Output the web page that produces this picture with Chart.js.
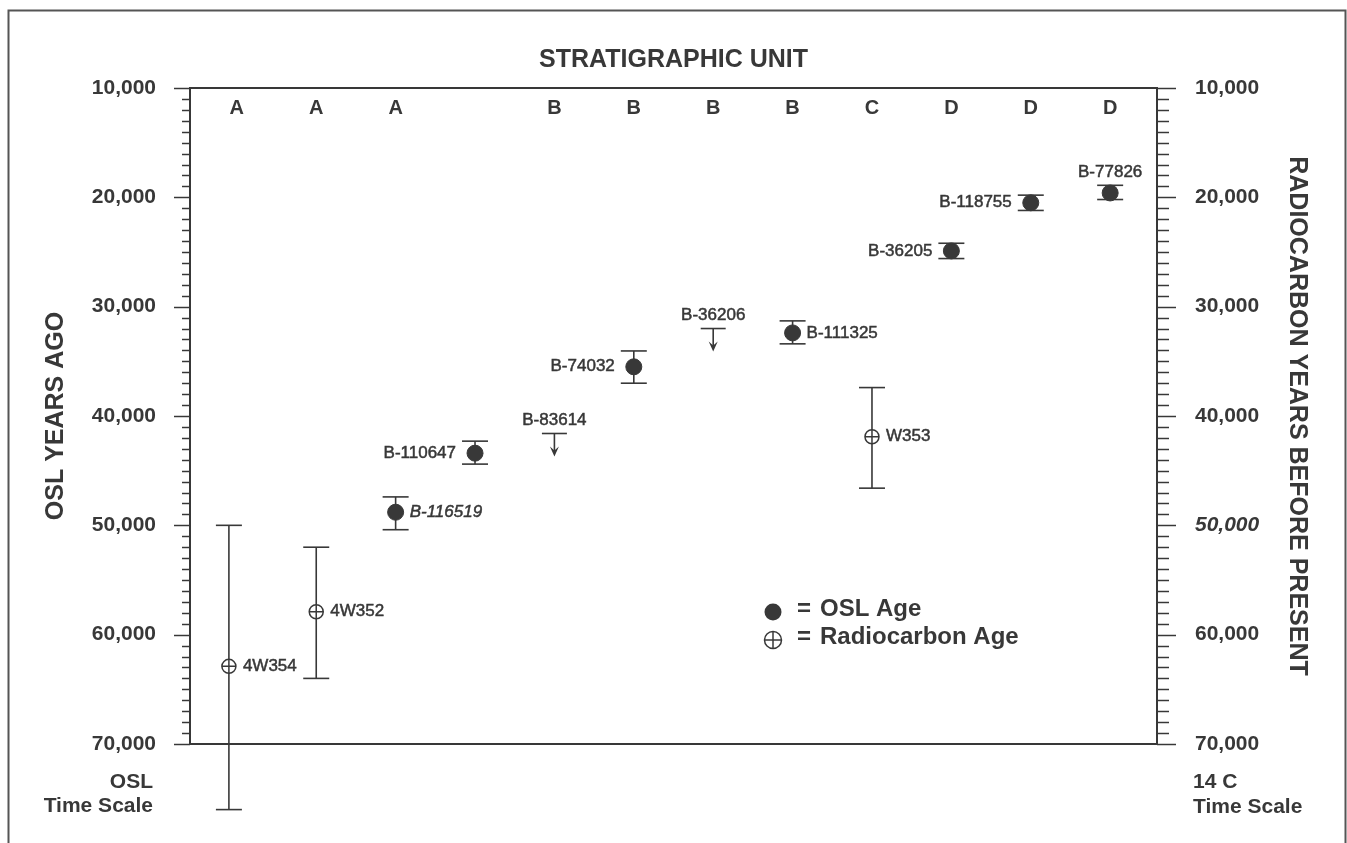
<!DOCTYPE html>
<html>
<head>
<meta charset="utf-8">
<title>OSL and radiocarbon ages by stratigraphic unit</title>
<script src="https://cdn.jsdelivr.net/npm/chart.js@4.4.1/dist/chart.umd.min.js"></script>
<style>
    html, body { margin: 0; padding: 0; background: #fff; }
    #wrap { position: relative; width: 1347px; height: 843px; }
</style>
</head>
<body>
<div id="wrap"><canvas id="ageChart"></canvas></div>
<script>
// ============================================
// DATA
// ============================================

// stratigraphic unit of each sample column (column 3 has no letter)
const units = ['A', 'A', 'A', '', 'B', 'B', 'B', 'B', 'C', 'D', 'D', 'D'];

// age axis (same on both sides), years
const ageMin = 10000;
const ageMax = 70000;
const ageMajorStep = 10000;
const ageMinorStep = 1000;

// OSL ages (filled circles) with error range
const oslSamples = ['B-116519', 'B-110647', 'B-74032', 'B-111325', 'B-36205', 'B-118755', 'B-77826'];
const oslColumn = [2, 3, 5, 7, 9, 10, 11];
const oslAge = [48800, 43400, 35500, 32400, 24900, 20500, 19600];
const oslYoung = [47400, 42300, 34050, 31300, 24200, 19800, 18900];
const oslOld = [50400, 44400, 37000, 33400, 25600, 21200, 20200];

// radiocarbon ages (circle with cross) with error range
const rcSamples = ['4W354', '4W352', 'W353'];
const rcColumn = [-0.1, 1, 8];
const rcAge = [62900, 57900, 41900];
const rcYoung = [50000, 52000, 37400];
const rcOld = [76000, 64000, 46600];

// minimum ages (bar with arrow pointing older)
const minSamples = ['B-83614', 'B-36206'];
const minColumn = [4, 6];
const minAge = [41600, 32000];

// ============================================
// STYLE
// ============================================

const FONT = "'Liberation Sans', Arial, Helvetica, sans-serif";
const INK = '#383838';

// where each sample name sits relative to its mark
const labelSide = {
    '4W354': 'right', '4W352': 'right', 'B-116519': 'right', 'B-110647': 'left',
    'B-83614': 'above', 'B-74032': 'left', 'B-36206': 'above', 'B-111325': 'right',
    'W353': 'right', 'B-36205': 'left', 'B-118755': 'left', 'B-77826': 'above'
};
const italicLabels = ['B-116519'];

Chart.defaults.font.family = FONT;
Chart.defaults.color = INK;

function line(c, x1, y1, x2, y2) {
    c.beginPath();
    c.moveTo(x1, y1);
    c.lineTo(x2, y2);
    c.stroke();
}

function errorBar(c, px, pTop, pBottom) {
    const cap = 13;
    line(c, px, pTop, px, pBottom);
    line(c, px - cap, pTop, px + cap, pTop);
    line(c, px - cap, pBottom, px + cap, pBottom);
}

function minimumArrow(c, px, py) {
    const cap = 12.5;
    const len = 23;
    line(c, px - cap, py, px + cap, py);
    line(c, px, py, px, py + len - 4);
    c.beginPath();
    c.moveTo(px - 4.5, py + len - 10);
    c.lineTo(px, py + len);
    c.lineTo(px + 4.5, py + len - 10);
    c.lineTo(px, py + len - 6);
    c.closePath();
    c.fill();
}

// text with a hairline outline, close to the medium weight of the original
function heavyText(c, text, x, y) {
    c.fillText(text, x, y);
    c.strokeText(text, x, y);
}

function sampleLabel(c, name, px, py, pTop) {
    const side = labelSide[name];
    c.font = (italicLabels.includes(name) ? 'italic ' : '') + '17px ' + FONT;
    c.textBaseline = 'middle';
    c.lineWidth = 0.5;
    if (side === 'left') {
        c.textAlign = 'right';
        heavyText(c, name, px - 19, py);
    } else if (side === 'right') {
        c.textAlign = 'left';
        heavyText(c, name, px + 14, py);
    } else {
        c.textAlign = 'center';
        heavyText(c, name, px, pTop - 13);
    }
}

const figurePlugin = {
    id: 'figure',
    beforeDraw(chart) {
        const c = chart.ctx;
        c.save();
        c.strokeStyle = '#555';
        c.lineWidth = 2;
        c.strokeRect(8.5, 10.5, chart.width - 10, chart.height + 20);
        c.restore();
    },
    beforeDatasetsDraw(chart) {
        const { ctx: c, scales: { x, y } } = chart;
        c.save();
        c.strokeStyle = INK;
        c.fillStyle = INK;
        c.lineWidth = 1.6;
        oslColumn.forEach((col, i) => {
            errorBar(c, x.getPixelForValue(col), y.getPixelForValue(oslYoung[i]), y.getPixelForValue(oslOld[i]));
        });
        rcColumn.forEach((col, i) => {
            errorBar(c, x.getPixelForValue(col), y.getPixelForValue(rcYoung[i]), y.getPixelForValue(rcOld[i]));
        });
        minColumn.forEach((col, i) => {
            minimumArrow(c, x.getPixelForValue(col), y.getPixelForValue(minAge[i]));
        });
        c.restore();
    },
    afterDraw(chart) {
        const { ctx: c, chartArea: area, scales: { x, y } } = chart;
        c.save();
        c.strokeStyle = INK;
        c.fillStyle = INK;

        // major and minor tick marks on both age axes
        c.lineWidth = 1.5;
        for (let v = ageMin; v <= ageMax; v += ageMinorStep) {
            const major = v % ageMajorStep === 0;
            const py = Math.round(y.getPixelForValue(v)) + 0.5;
            line(c, area.left - (major ? 16 : 8), py, area.left, py);
            line(c, area.right, py, area.right + (major ? 19 : 12), py);
        }

        // stratigraphic unit letters just under the top edge
        c.font = 'bold 20px ' + FONT;
        c.textAlign = 'center';
        c.textBaseline = 'middle';
        units.forEach((u, i) => {
            if (u) c.fillText(u, x.getPixelForValue(i), area.top + 20);
        });

        // sample names
        oslSamples.forEach((name, i) => {
            sampleLabel(c, name, x.getPixelForValue(oslColumn[i]), y.getPixelForValue(oslAge[i]), y.getPixelForValue(oslYoung[i]));
        });
        rcSamples.forEach((name, i) => {
            sampleLabel(c, name, x.getPixelForValue(rcColumn[i]), y.getPixelForValue(rcAge[i]), y.getPixelForValue(rcYoung[i]));
        });
        minSamples.forEach((name, i) => {
            const py = y.getPixelForValue(minAge[i]);
            sampleLabel(c, name, x.getPixelForValue(minColumn[i]), py, py);
        });

        // legend
        const lx = area.left + 583;
        const ly1 = area.top + 521;
        const ly2 = area.top + 549;
        c.beginPath();
        c.arc(lx, ly1 + 3, 8.5, 0, Math.PI * 2);
        c.fill();
        c.lineWidth = 1.5;
        c.beginPath();
        c.arc(lx, ly2 + 3, 8.5, 0, Math.PI * 2);
        c.stroke();
        line(c, lx - 8.5, ly2 + 3, lx + 8.5, ly2 + 3);
        line(c, lx, ly2 - 5.5, lx, ly2 + 11.5);
        c.font = 'bold 24px ' + FONT;
        c.textAlign = 'left';
        c.textBaseline = 'middle';
        c.fillText('=', lx + 24, ly1);
        c.fillText('OSL Age', lx + 47, ly1);
        c.fillText('=', lx + 24, ly2);
        c.fillText('Radiocarbon Age', lx + 47, ly2);

        // time scale captions under the axes
        c.font = 'bold 21px ' + FONT;
        c.textAlign = 'right';
        c.fillText('OSL', area.left - 37, area.bottom + 38);
        c.fillText('Time Scale', area.left - 37, area.bottom + 62);
        c.textAlign = 'left';
        c.fillText('14 C', area.right + 36, area.bottom + 38);
        c.fillText('Time Scale', area.right + 36, area.bottom + 63);
        c.restore();
    }
};

const xRange = { min: -0.59, max: 11.59 };

const ageTickFont = { size: 21, weight: 'bold' };

const ageChart = new Chart(document.getElementById('ageChart'), {
    type: 'scatter',
    data: {
        datasets: [
            {
                label: 'OSL Age',
                data: oslColumn.map((col, i) => ({ x: col, y: oslAge[i] })),
                pointStyle: 'circle',
                pointRadius: 8,
                pointBackgroundColor: INK,
                pointBorderColor: INK,
                pointBorderWidth: 1
            },
            {
                // drawn after the white circle below, so the cross sits on top
                label: 'Radiocarbon Age cross',
                data: rcColumn.map((col, i) => ({ x: col, y: rcAge[i] })),
                pointStyle: 'cross',
                pointRadius: 7,
                pointBorderColor: INK,
                pointBorderWidth: 1.5
            },
            {
                label: 'Radiocarbon Age',
                data: rcColumn.map((col, i) => ({ x: col, y: rcAge[i] })),
                pointStyle: 'circle',
                pointRadius: 7,
                pointBackgroundColor: '#ffffff',
                pointBorderColor: INK,
                pointBorderWidth: 1.5
            },
            {
                label: 'Minimum age',
                data: minColumn.map((col, i) => ({ x: col, y: minAge[i] })),
                pointRadius: 0
            }
        ]
    },
    options: {
        responsive: true,
        maintainAspectRatio: false,
        animation: false,
        events: [],
        layout: { padding: 0 },
        plugins: {
            legend: { display: false },
            tooltip: { enabled: false }
        },
        scales: {
            x: {
                type: 'linear',
                position: 'bottom',
                min: xRange.min,
                max: xRange.max,
                ticks: { display: false },
                grid: { display: false, drawTicks: false },
                border: { display: true, color: INK, width: 2 },
                afterFit: (scale) => { scale.height = 99; }
            },
            x2: {
                type: 'linear',
                position: 'top',
                min: xRange.min,
                max: xRange.max,
                ticks: { display: false },
                grid: { display: false, drawTicks: false },
                border: { display: true, color: INK, width: 2 },
                title: {
                    display: true,
                    text: 'STRATIGRAPHIC UNIT',
                    color: INK,
                    font: { size: 25, weight: 'bold' },
                    padding: { top: 45, bottom: 0 }
                },
                afterFit: (scale) => { scale.height = 88; }
            },
            y: {
                type: 'linear',
                position: 'left',
                reverse: true,
                min: ageMin,
                max: ageMax,
                ticks: {
                    stepSize: ageMajorStep,
                    padding: 34,
                    color: INK,
                    font: ageTickFont,
                    callback: (v) => v.toLocaleString('en-US')
                },
                grid: { display: false, drawTicks: false },
                border: { display: true, color: INK, width: 2 },
                title: {
                    display: true,
                    text: 'OSL YEARS AGO',
                    color: INK,
                    font: { size: 25, weight: 'bold' },
                    padding: { top: 41, bottom: 0 }
                },
                afterFit: (scale) => { scale.width = 190; }
            },
            y2: {
                type: 'linear',
                position: 'right',
                reverse: true,
                min: ageMin,
                max: ageMax,
                ticks: {
                    stepSize: ageMajorStep,
                    padding: 38,
                    color: INK,
                    font: (ctx) => ({
                        size: 21,
                        weight: 'bold',
                        style: ctx.tick && ctx.tick.value === 50000 ? 'italic' : 'normal'
                    }),
                    callback: (v) => v.toLocaleString('en-US')
                },
                grid: { display: false, drawTicks: false },
                border: { display: true, color: INK, width: 2 },
                title: {
                    display: true,
                    text: 'RADIOCARBON YEARS BEFORE PRESENT',
                    color: INK,
                    font: { size: 25, weight: 'bold' },
                    padding: { top: 35, bottom: 0 }
                },
                afterFit: (scale) => { scale.width = 190; }
            }
        }
    },
    plugins: [figurePlugin]
});
</script>
</body>
</html>
